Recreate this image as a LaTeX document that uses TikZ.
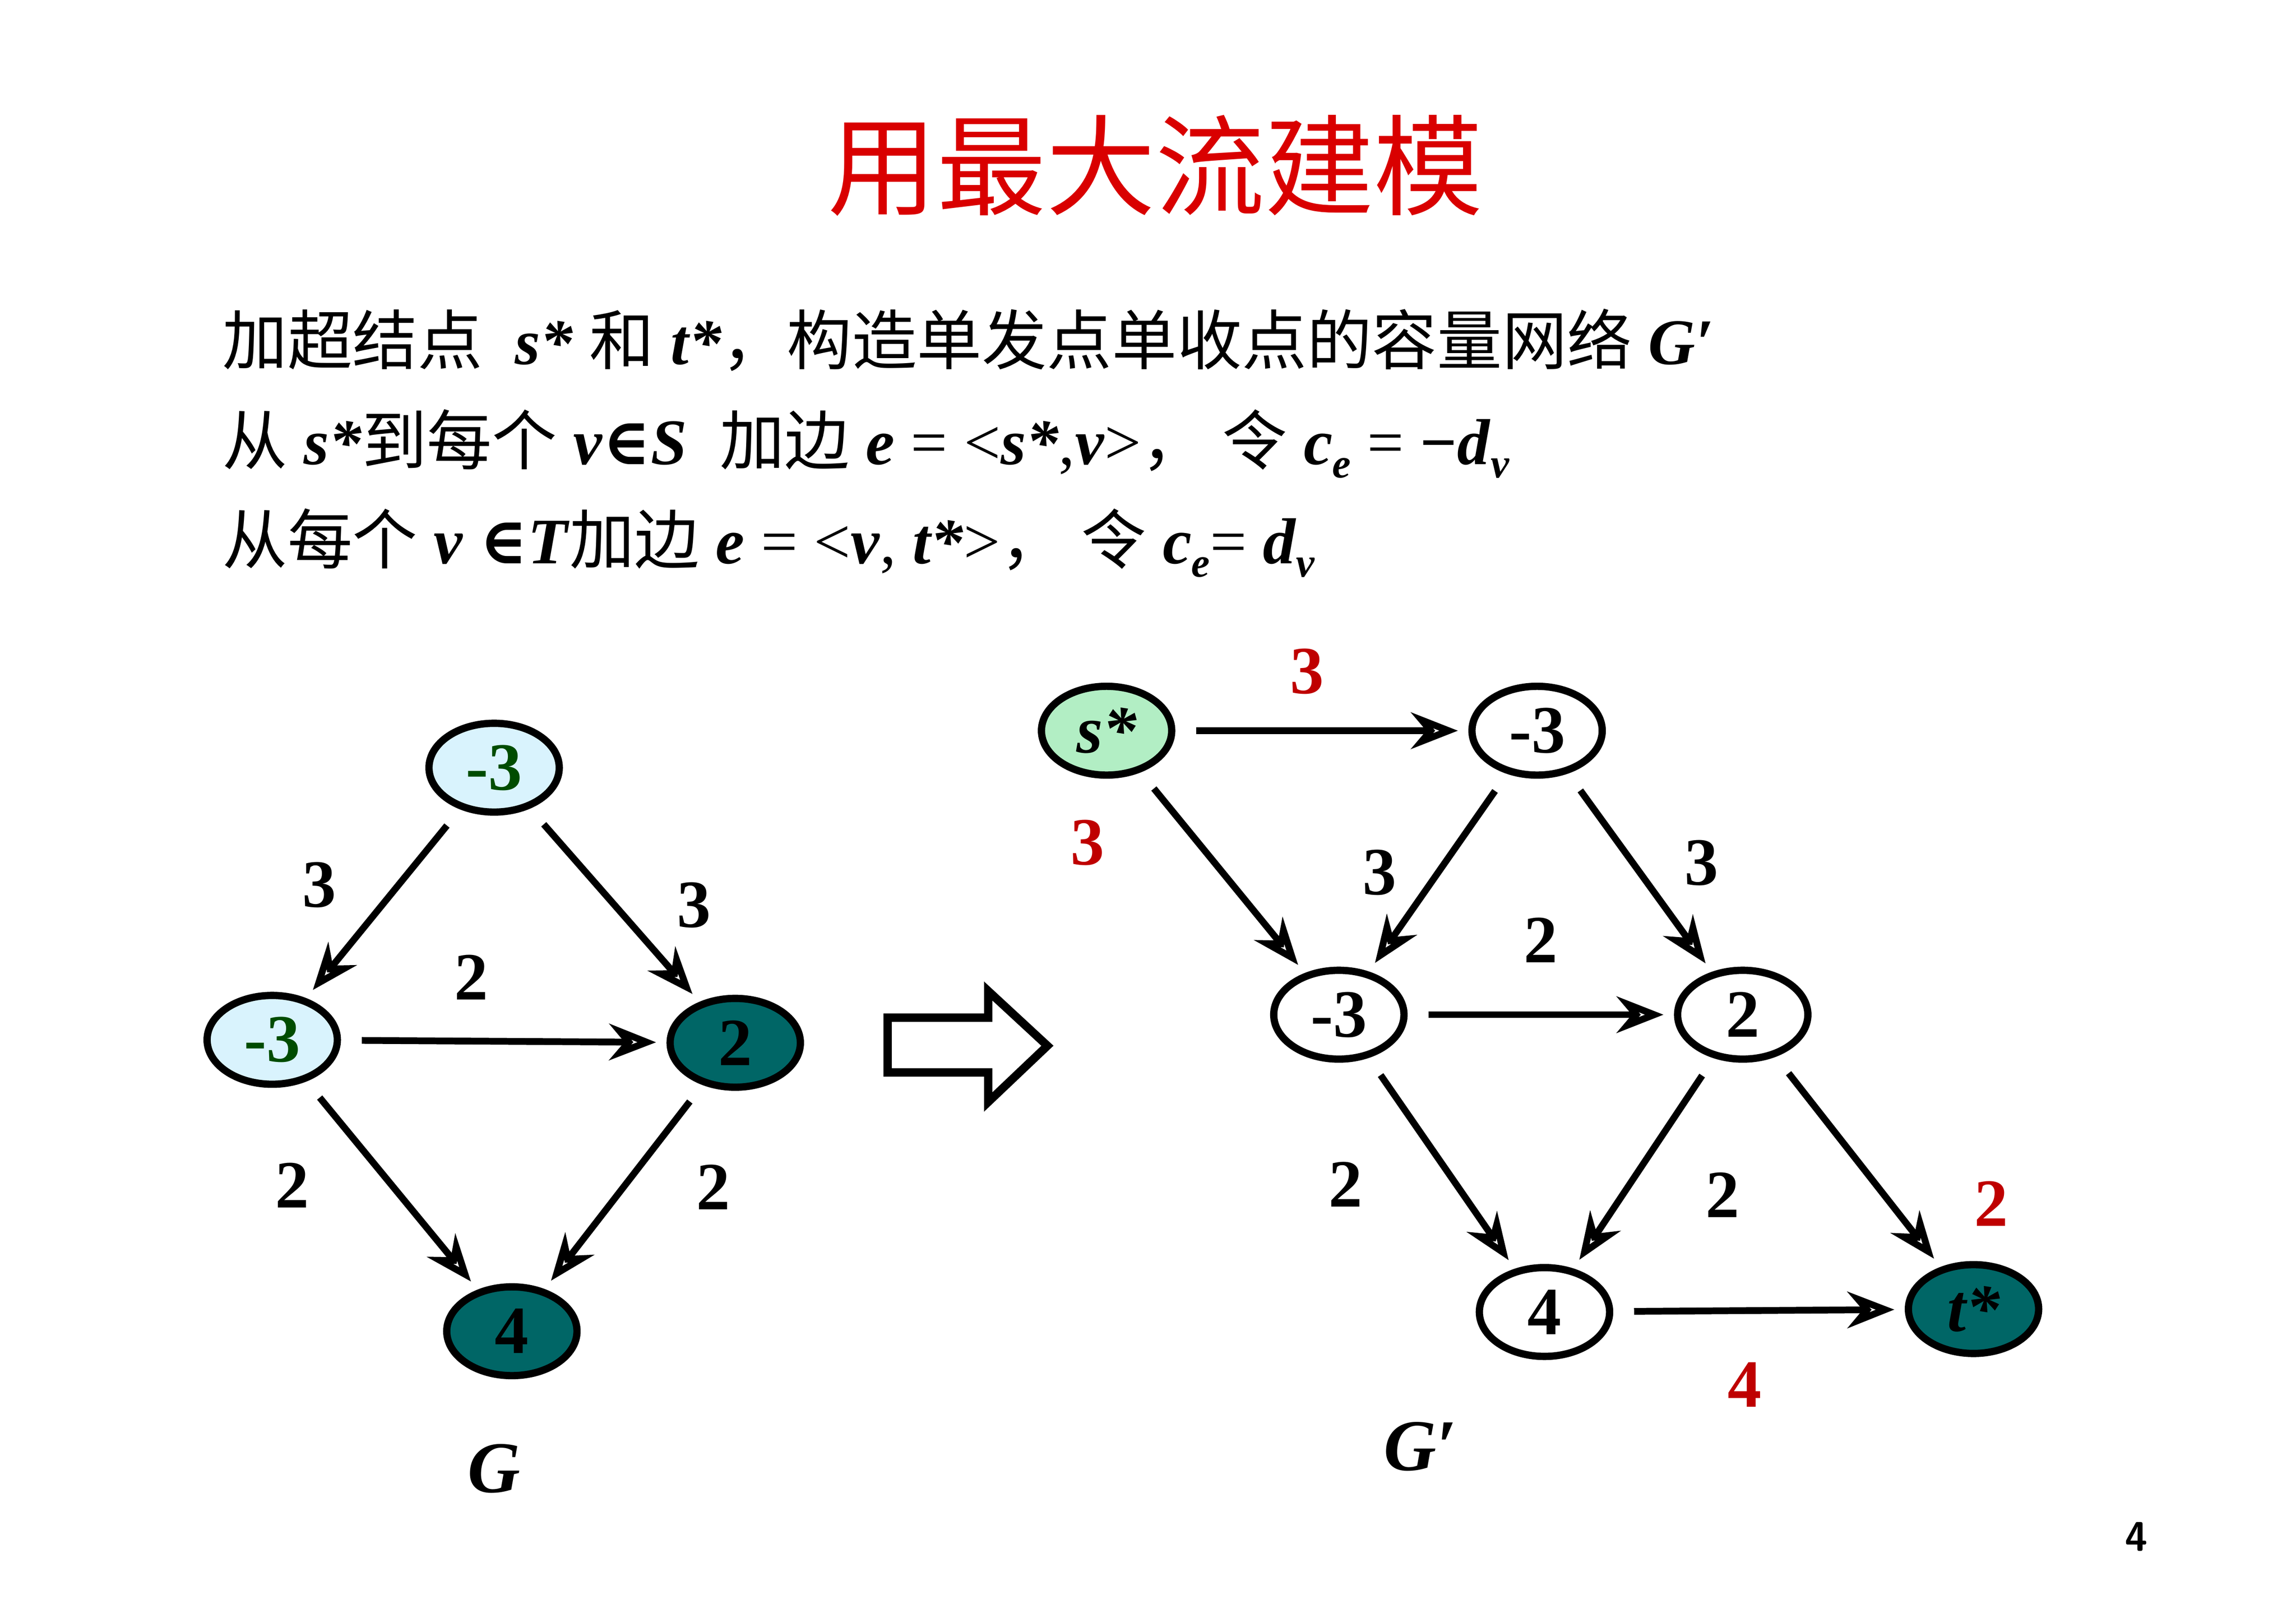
\documentclass[tikz,border=0pt]{standalone}
\usepackage{fontspec}
\setmainfont{Liberation Serif}
\newfontfamily\cjk{Noto Sans CJK SC}
\newfontfamily\dvs{DejaVu Serif}
\usetikzlibrary{arrows.meta,shapes.geometric}
\newcommand{\bi}[1]{\textbf{\textit{#1}}}
\newcommand{\sbi}[1]{\raisebox{-0.45ex}{\footnotesize\bi{#1}}}
\begin{document}
\begin{tikzpicture}[x=0.01cm,y=-0.01cm,
  vx/.style={ellipse,draw=black,line width=1.4pt,minimum width=0.88cm,minimum height=0.6cm,inner sep=0pt,font=\bfseries\fontsize{13}{13}\selectfont},
  lb/.style={fill=cyan!15!white,text=green!30!black},
  tl/.style={fill=teal!100!cyan!80!black},
  wt/.style={fill=white},
  ed/.style={-{Stealth[length=9pt,width=7pt,open]},line width=1.3pt,shorten >=2pt,shorten <=4pt},
  el/.style={font=\bfseries\fontsize{13}{13}\selectfont},
  rl/.style={el,text=red!75!black}]
\useasboundingbox (0,0) rectangle (1552,1097);
\node[text=red!85!black,font=\cjk\fontsize{21}{21}\selectfont] (title) at (781,112) {用最大流建模};
\node[anchor=west,font=\fontsize{12.5}{15}\selectfont] (l1) at (138,230) {{\cjk 加超结点}\ \ \bi{s*} {\cjk 和} \bi{t*}{\cjk ，构造单发点单收点的容量网络} \bi{G′}};
\node[anchor=west,font=\fontsize{12.5}{15}\selectfont] (l2) at (138,300) {{\cjk 从} \bi{s*}{\cjk 到每个} \bi{v}{\dvs\bfseries ∈}\bi{S}\ \ {\cjk 加边} \bi{e} = <\bi{s*},\bi{v}>{\cjk ，}\ {\cjk 令} \bi{c}\sbi{e} = \textbf{−}\bi{d}\sbi{v}};
\node[anchor=west,font=\fontsize{12.5}{15}\selectfont] (l3) at (138,367) {{\cjk 从每个} \bi{v} {\dvs\bfseries ∈}\bi{T}{\cjk 加边} \bi{e} = <\bi{v}, \bi{t*}>{\cjk ，}\ {\cjk 令} \bi{c}\sbi{e}= \bi{d}\sbi{v}};
% G
\node[vx,lb] (a) at (334,519) {-3};
\node[vx,lb] (b) at (184,703) {-3};
\node[vx,tl] (c) at (497,705) {2};
\node[vx,tl] (d) at (346,900) {4};
\draw[ed] (a) -- (b) node[el,pos=0.4,left=8pt] {3};
\draw[ed] (a) -- (c) node[el,pos=0.5,right=8pt] {3};
\draw[ed] (b) -- (c) node[el,pos=0.4,above=4pt] {2};
\draw[ed] (b) -- (d) node[el,pos=0.5,left=12pt] {2};
\draw[ed] (c) -- (d) node[el,pos=0.5,right=10pt] {2};
\node[font=\bfseries\itshape\fontsize{14}{14}\selectfont] (gl) at (334,993) {G};
% arrow
\draw[line width=1.6pt] (600,688) -- (668,688) -- (668,670) -- (708,707) -- (668,745) -- (668,725) -- (600,725) -- cycle;
% G'
\node[vx,fill=green!55!teal!30!white,font=\bfseries\itshape\fontsize{13}{13}\selectfont] (s) at (748,494) {s*};
\node[vx,wt] (p) at (1039,494) {-3};
\node[vx,wt] (q) at (905,686) {-3};
\node[vx,wt] (r) at (1178,686) {2};
\node[vx,wt] (u) at (1044,887) {4};
\node[vx,tl,font=\bfseries\itshape\fontsize{13}{13}\selectfont] (t) at (1334,885) {t*};
\draw[ed] (s) -- (p) node[rl,pos=0.45,above=3pt] {3};
\draw[ed] (s) -- (q) node[rl,pos=0.35,left=14pt] {3};
\draw[ed] (p) -- (q) node[el,pos=0.5,left=4pt] {3};
\draw[ed] (p) -- (r) node[el,pos=0.45,right=6pt] {3};
\draw[ed] (q) -- (r) node[el,pos=0.5,above=6pt] {2};
\draw[ed] (r) -- (t) node[rl,pos=0.7,right=12pt] {2};
\draw[ed] (q) -- (u) node[el,pos=0.6,left=14pt] {2};
\draw[ed] (r) -- (u) node[el,pos=0.65,right=12pt] {2};
\draw[ed] (u) -- (t) node[rl,pos=0.45,below=6pt] {4};
\node[font=\bfseries\itshape\fontsize{14}{14}\selectfont] (gpl) at (960,978) {G′};
\node[font=\sffamily\bfseries\fontsize{8}{8}\selectfont] (pg) at (1444,1039) {4};
\end{tikzpicture}
\end{document}
